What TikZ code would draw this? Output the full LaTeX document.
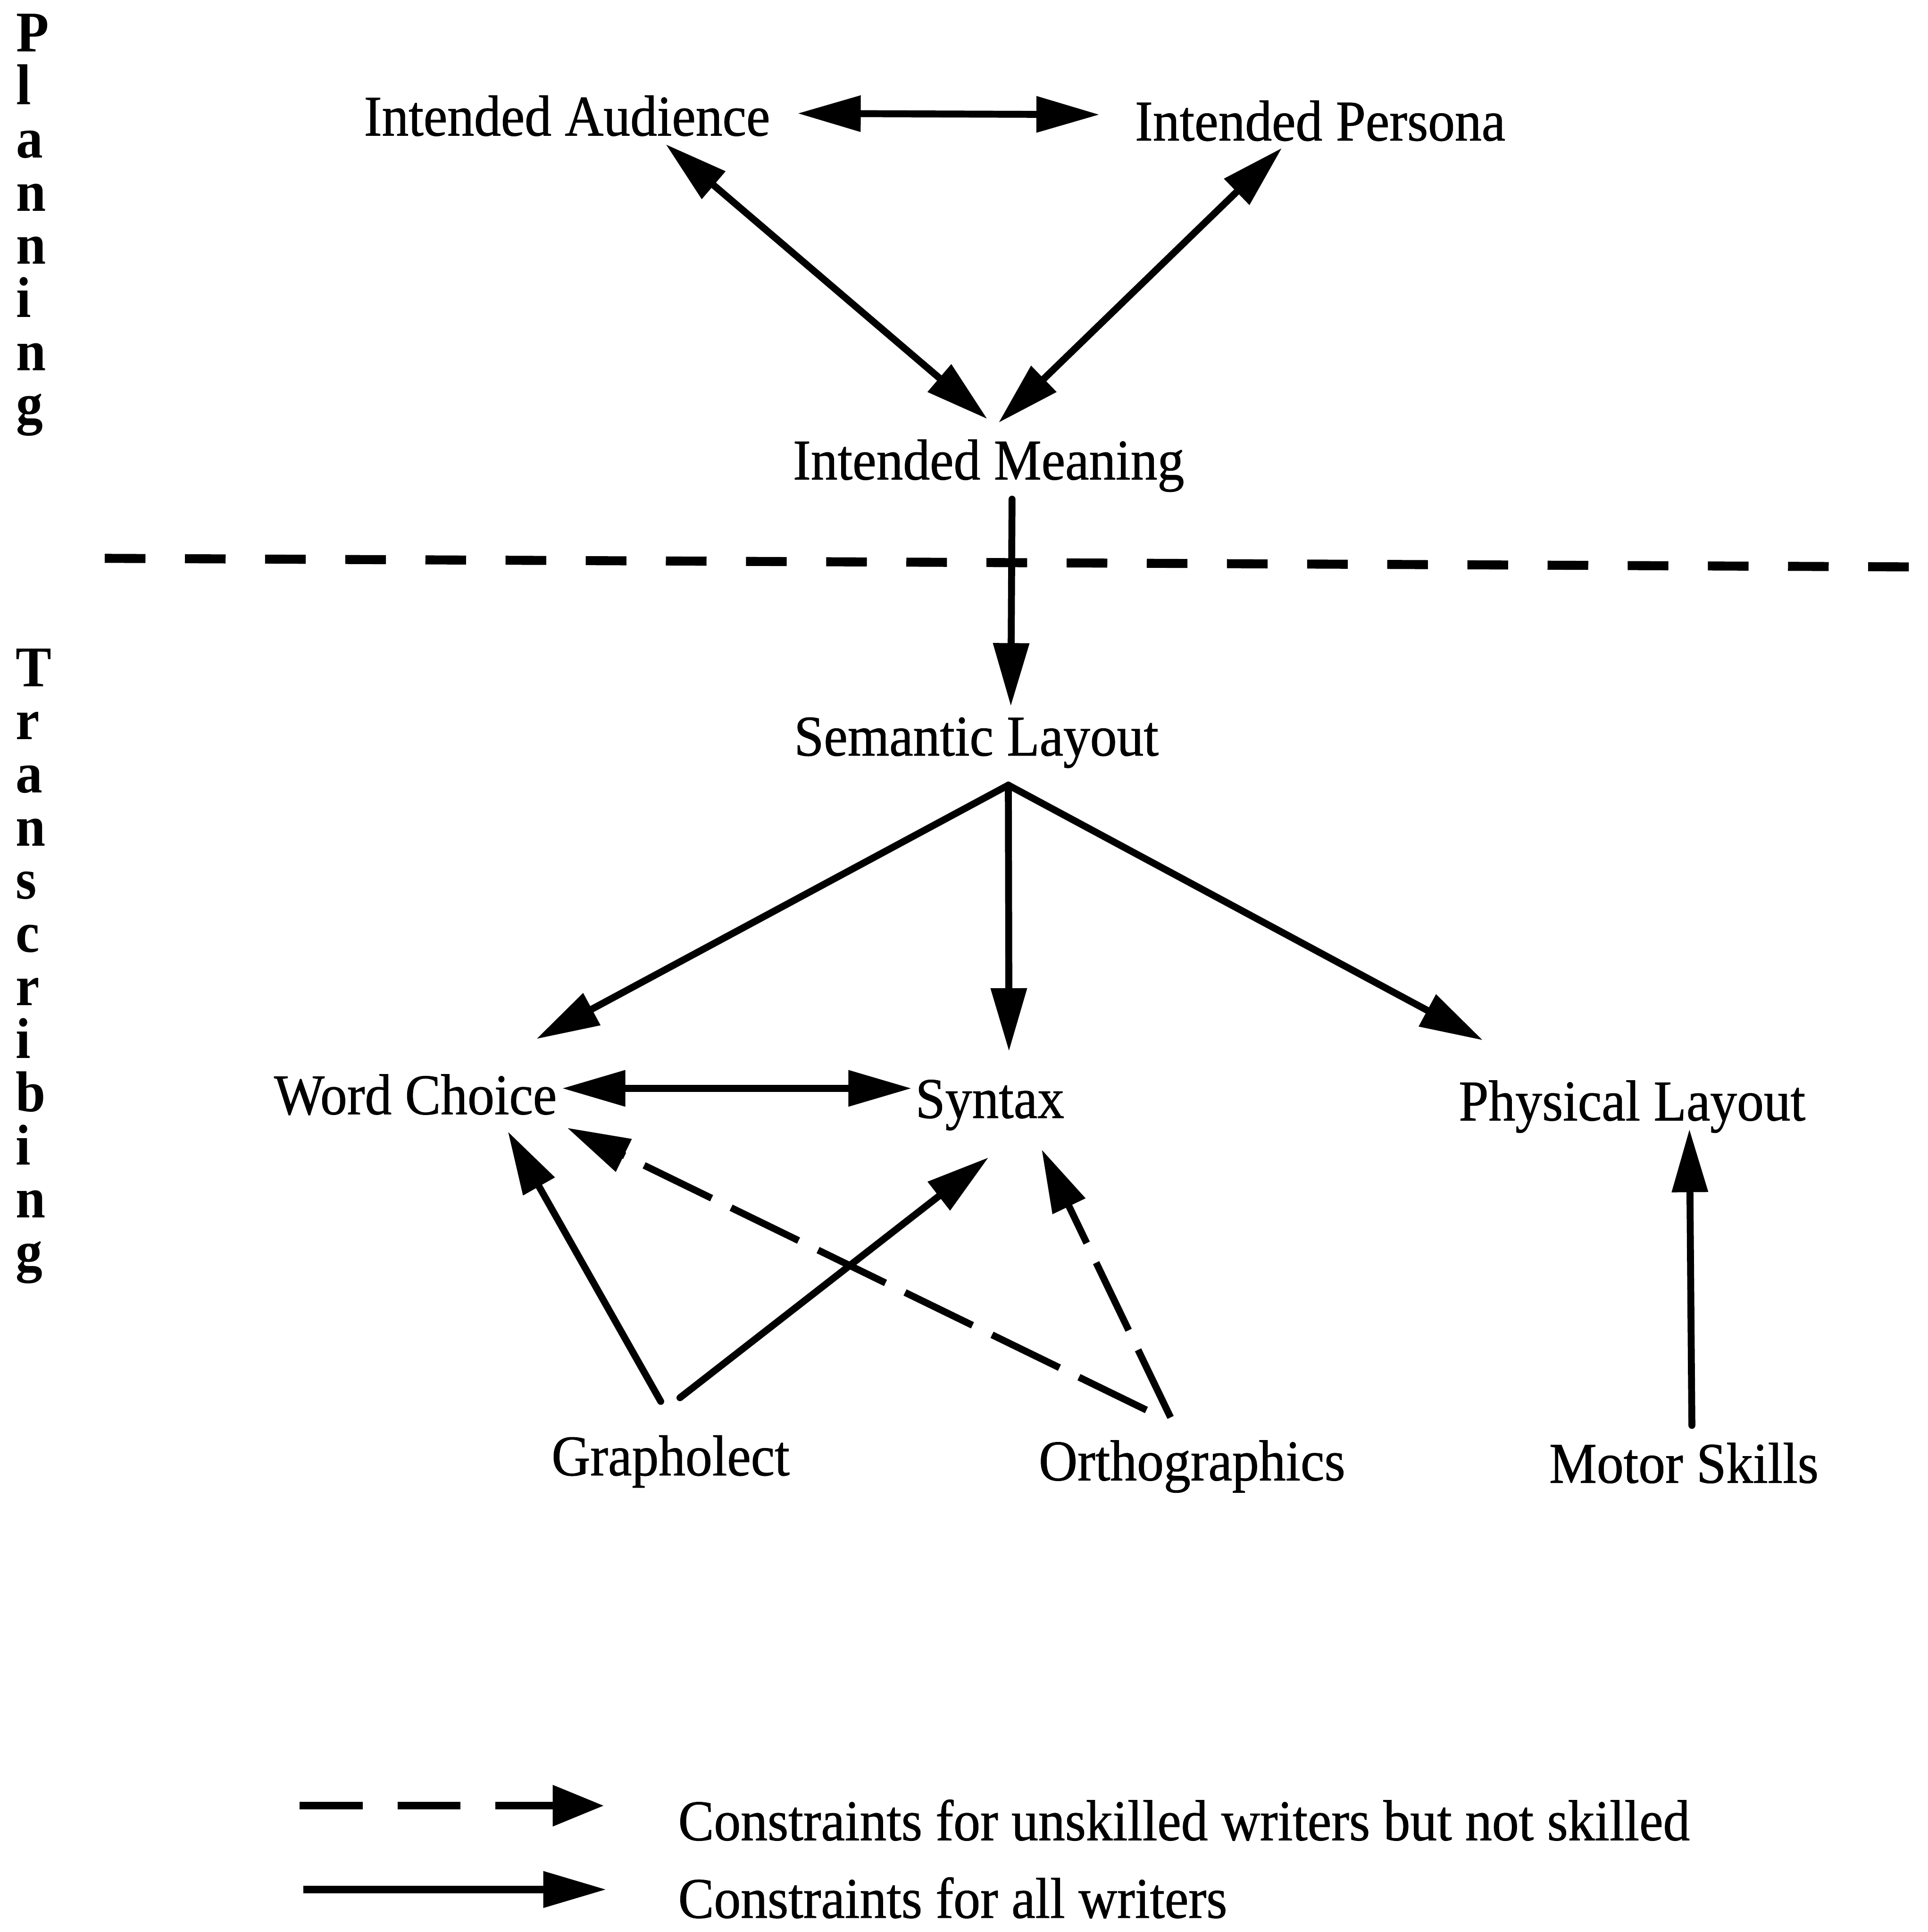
\documentclass[tikz,border=0pt]{standalone}
\usepackage{fontspec}
\setmainfont{Liberation Serif}[FakeStretch=0.93]
\newfontfamily\lblfont{Liberation Serif}[FakeStretch=0.93,FakeBold=0.8]
\usetikzlibrary{arrows.meta,calc}
\lineskiplimit=-50pt
\begin{document}
\begin{tikzpicture}[x=0.0312148cm,y=-0.0312148cm,
  lbl/.style={font=\lblfont\fontsize{41.5}{50}\selectfont, anchor=base, inner sep=0pt},
  side/.style={font=\fontsize{41.5}{38.3}\selectfont\bfseries,
               align=left, anchor=north west, inner sep=0pt},
  head/.tip={Triangle[length=1.6cm,width=0.88cm]},
  link/.style={line width=5pt, line cap=round, -head},
  both/.style={line width=5pt, line cap=round, head-head},
  weak/.style={line width=5pt, -head, dash pattern=on 1.9cm off 0.55cm},
]
% page frame
\useasboundingbox (0,0) rectangle (1564,1567.5);

% phase labels down the left margin
\node[side] (plan) at (13,11) {P\\l\\a\\n\\n\\i\\n\\g};
\node[side] (trans) at (12.5,526) {T\\r\\a\\n\\s\\c\\r\\i\\b\\i\\n\\g};

% divider between planning and transcribing
\draw[line width=6.5pt, dash pattern=on 1.03cm off 1.0cm] (85,453) -- (1558,460);

% concepts
\node[lbl] (aud)   at (460,110)  {Intended Audience};
\node[lbl] (per)   at (1071,114) {Intended Persona};
\node[lbl] (mean)  at (802,389)  {Intended Meaning};
\node[lbl] (sem)   at (792,613)  {Semantic Layout};
\node[lbl] (wc)    at (337,904)  {Word Choice};
\node[lbl] (syn)   at (803,907)  {Syntax};
\node[lbl] (phys)  at (1324,909) {Physical Layout};
\node[lbl] (graph) at (544,1197) {Grapholect};
\node[lbl] (orth)  at (967,1201) {Orthographics};
\node[lbl] (motor) at (1366,1203) {Motor Skills};

% planning links
\draw[both] ($(aud.base)+(187,-18)$) -- ($(per.base)+(-179,-21)$);
\draw[both] ($(aud.base)+(80,7)$) -- ($(mean.base)+(-1,-49)$);
\draw[both] ($(per.base)+(-31,6)$) -- ($(mean.base)+(8,-46)$);
\draw[link] ($(mean.base)+(19,16)$) -- ($(sem.base)+(28,-40)$);

% semantic layout fans out
\coordinate (fork) at ($(sem.base)+(26,24)$);
\draw[link] (fork) -- ($(wc.base)+(98,-61)$);
\draw[link] (fork) -- ($(syn.base)+(15.5,-54)$);
\draw[link] (fork) -- ($(phys.base)+(-121,-65)$);
\draw[both] ($(wc.base)+(119,-21)$) -- ($(syn.base)+(-63.5,-24)$);

% lower-level constraints
\draw[link] ($(graph.base)+(-8,-60)$) -- ($(wc.base)+(75,14)$);
\draw[link] ($(graph.base)+(7.6,-63)$) -- ($(syn.base)+(-1,32)$);
\draw[weak] ($(orth.base)+(-37,-57)$) -- ($(wc.base)+(123,11)$);
\draw[weak] ($(orth.base)+(-17.4,-51)$) -- ($(syn.base)+(42,25.5)$);
\draw[link] ($(motor.base)+(6.5,-46.5)$) -- ($(phys.base)+(46.5,7)$);

% legend
\node[lbl, anchor=base west] (keyweak) at (550,1493) {Constraints for unskilled writers but not skilled};
\node[lbl, anchor=base west] (keyall)  at (550,1556) {Constraints for all writers};
\coordinate (kw0) at (243,1465);
\coordinate (kw1) at (490,1465);
\coordinate (ka0) at (246,1533);
\coordinate (ka1) at (492,1533);
\draw[line width=5.5pt, dash pattern=on 1.6cm off 0.88cm, -{Triangle[length=1.3cm,width=1.0cm]}] (kw0) -- (kw1);
\draw[line width=5.5pt, -head] (ka0) -- (ka1);
\end{tikzpicture}
\end{document}
